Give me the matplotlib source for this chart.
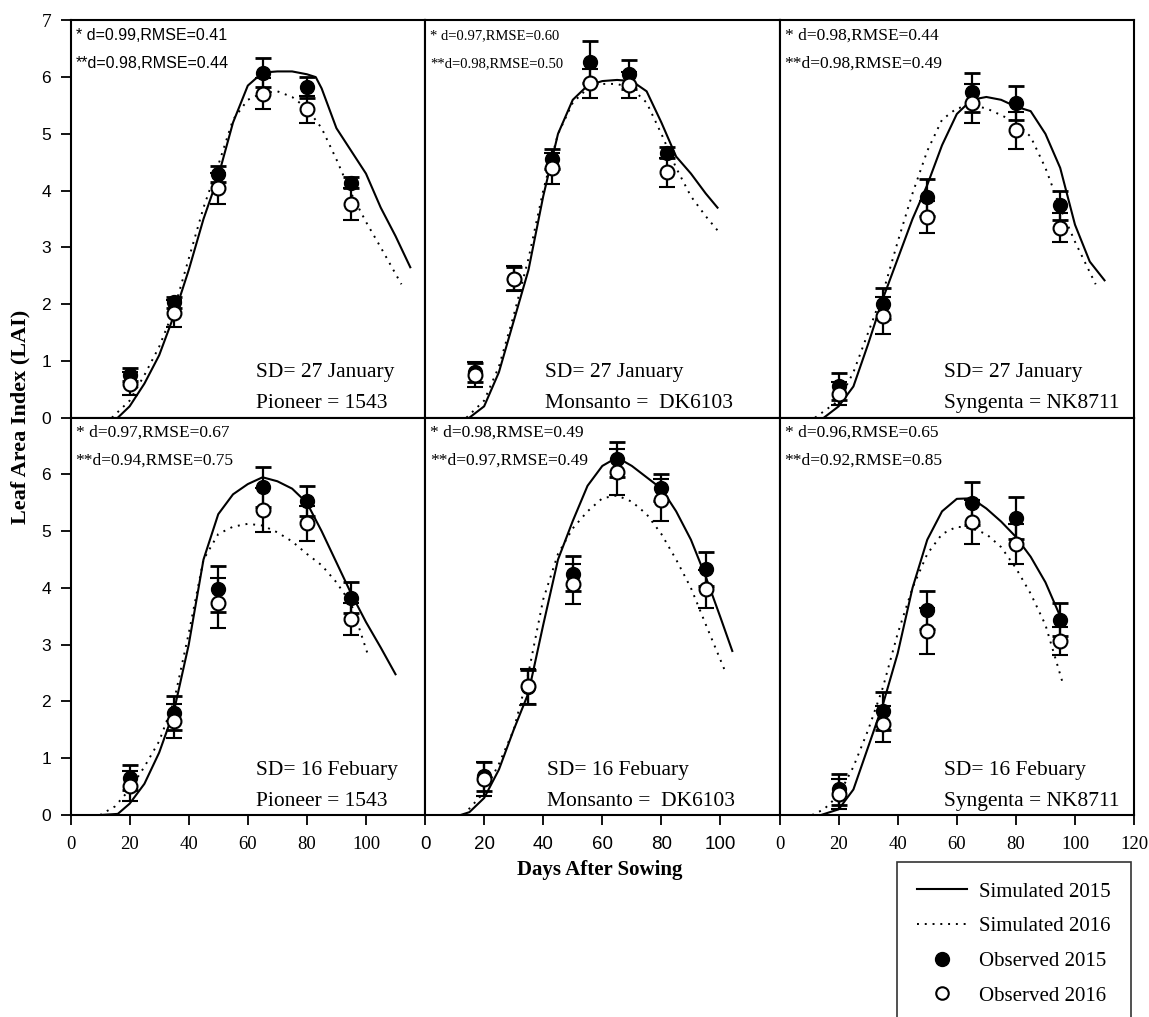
import matplotlib.pyplot as plt
from matplotlib.lines import Line2D

SERIF = 'Liberation Serif'
SANS = 'Liberation Sans'

# sampling days of the field observations
obs_days = [20, 35, 50, 65, 80, 95]
obs_days_dk_jan = [17, 30, 43, 56, 69, 82]

# ---- SD 27 January, Pioneer 1543 ----
sim15_x_p1 = [16, 20, 25, 30, 35, 40, 45, 50, 55, 60, 65, 70, 75, 80, 83, 85, 90, 95, 100, 105, 110, 115]
sim15_y_p1 = [0, 0.2, 0.6, 1.1, 1.8, 2.6, 3.5, 4.25, 5.2, 5.85, 6.08, 6.1, 6.1, 6.05, 6.0, 5.8, 5.1, 4.7, 4.3, 3.7, 3.2, 2.65]
sim16_x_p1 = [14, 20, 25, 30, 35, 40, 45, 50, 55, 60, 65, 70, 75, 80, 85, 90, 95, 100, 105, 112]
sim16_y_p1 = [0, 0.3, 0.75, 1.25, 1.9, 2.8, 3.7, 4.45, 5.25, 5.6, 5.72, 5.75, 5.65, 5.45, 5.1, 4.55, 3.95, 3.45, 3.0, 2.35]
obs15_p1 = [0.76, 2.03, 4.29, 6.08, 5.82, 4.14]
obs16_p1 = [0.6, 1.84, 4.04, 5.71, 5.43, 3.77]
err15_p1 = [0.12, 0.1, 0.14, 0.25, 0.19, 0.1]
err16_p1 = [0.2, 0.24, 0.27, 0.28, 0.23, 0.28]

# ---- SD 27 January, Monsanto DK6103 ----
sim15_x_p2 = [15, 20, 25, 30, 35, 40, 45, 50, 55, 60, 65, 70, 75, 80, 85, 90, 95, 99]
sim15_y_p2 = [0, 0.2, 0.8, 1.7, 2.6, 3.9, 5.0, 5.6, 5.85, 5.93, 5.95, 5.93, 5.75, 5.2, 4.6, 4.3, 3.95, 3.7]
sim16_x_p2 = [14, 20, 25, 30, 35, 40, 45, 50, 55, 60, 65, 70, 75, 80, 85, 90, 95, 99]
sim16_y_p2 = [0, 0.3, 0.9, 1.8, 2.8, 4.0, 5.0, 5.55, 5.8, 5.88, 5.88, 5.8, 5.55, 5.0, 4.4, 3.9, 3.55, 3.3]
obs15_p2 = [0.8, 2.45, 4.56, 6.26, 6.05, 4.67]
obs16_p2 = [0.76, 2.45, 4.39, 5.89, 5.86, 4.32]
err15_p2 = [0.17, 0.2, 0.18, 0.37, 0.26, 0.1]
err16_p2 = [0.22, 0.22, 0.28, 0.26, 0.23, 0.26]

# ---- SD 27 January, Syngenta NK8711 ----
sim15_x_p3 = [15, 20, 25, 30, 35, 40, 45, 50, 55, 60, 65, 70, 75, 80, 85, 90, 95, 100, 105, 110]
sim15_y_p3 = [0, 0.2, 0.55, 1.3, 2.1, 2.8, 3.5, 4.1, 4.8, 5.35, 5.6, 5.65, 5.6, 5.48, 5.4, 5.0, 4.4, 3.4, 2.75, 2.42]
sim16_x_p3 = [12, 20, 25, 30, 35, 40, 45, 50, 55, 60, 65, 70, 75, 80, 85, 90, 95, 100, 107]
sim16_y_p3 = [0, 0.3, 0.8, 1.5, 2.2, 3.1, 3.95, 4.7, 5.25, 5.45, 5.5, 5.45, 5.33, 5.2, 4.95, 4.4, 3.7, 3.1, 2.35]
obs15_p3 = [0.55, 2.01, 3.88, 5.73, 5.54, 3.74]
obs16_p3 = [0.42, 1.8, 3.53, 5.54, 5.06, 3.35]
err15_p3 = [0.23, 0.28, 0.32, 0.35, 0.3, 0.25]
err16_p3 = [0.2, 0.32, 0.28, 0.34, 0.32, 0.25]

# ---- SD 16 Febuary, Pioneer 1543 ----
sim15_x_p4 = [10, 16, 20, 25, 30, 35, 40, 45, 50, 55, 60, 65, 70, 75, 80, 85, 90, 95, 100, 105, 110]
sim15_y_p4 = [0, 0.02, 0.2, 0.55, 1.1, 1.83, 3.0, 4.5, 5.3, 5.65, 5.83, 5.95, 5.88, 5.75, 5.5, 5.0, 4.45, 3.9, 3.4, 2.95, 2.48]
sim16_x_p4 = [10, 15, 20, 25, 30, 35, 40, 45, 50, 55, 60, 65, 70, 75, 80, 85, 90, 95, 101]
sim16_y_p4 = [0, 0.15, 0.45, 0.85, 1.3, 2.0, 3.2, 4.5, 4.95, 5.08, 5.13, 5.1, 4.98, 4.82, 4.6, 4.4, 4.1, 3.72, 2.77]
obs15_p4 = [0.66, 1.8, 3.98, 5.78, 5.53, 3.83]
obs16_p4 = [0.51, 1.66, 3.74, 5.37, 5.14, 3.45]
err15_p4 = [0.22, 0.3, 0.41, 0.35, 0.27, 0.27]
err16_p4 = [0.27, 0.3, 0.44, 0.39, 0.31, 0.28]

# ---- SD 16 Febuary, Monsanto DK6103 ----
sim15_x_p5 = [12, 15, 20, 25, 30, 35, 40, 45, 50, 55, 60, 65, 70, 75, 80, 85, 90, 95, 100, 104]
sim15_y_p5 = [0, 0.05, 0.3, 0.8, 1.5, 2.15, 3.35, 4.5, 5.18, 5.8, 6.15, 6.3, 6.15, 5.95, 5.75, 5.35, 4.85, 4.2, 3.48, 2.89]
sim16_x_p5 = [13, 20, 25, 30, 35, 40, 45, 50, 55, 60, 65, 70, 75, 80, 85, 90, 95, 102]
sim16_y_p5 = [0, 0.4, 0.9, 1.5, 2.5, 3.8, 4.6, 5.05, 5.35, 5.58, 5.63, 5.52, 5.3, 4.95, 4.5, 4.0, 3.36, 2.48]
obs15_p5 = [0.68, 2.25, 4.25, 6.27, 5.77, 4.34]
obs16_p5 = [0.63, 2.27, 4.07, 6.04, 5.55, 3.98]
err15_p5 = [0.25, 0.3, 0.31, 0.31, 0.23, 0.3]
err16_p5 = [0.3, 0.31, 0.35, 0.4, 0.37, 0.33]

# ---- SD 16 Febuary, Syngenta NK8711 ----
sim15_x_p6 = [14, 20, 25, 30, 35, 40, 45, 50, 55, 60, 65, 70, 75, 80, 85, 90, 95]
sim15_y_p6 = [0, 0.1, 0.45, 1.2, 1.95, 2.85, 4.0, 4.85, 5.35, 5.57, 5.58, 5.4, 5.17, 4.9, 4.55, 4.1, 3.5]
sim16_x_p6 = [11, 15, 20, 25, 30, 35, 40, 45, 50, 55, 60, 65, 70, 75, 80, 85, 90, 96]
sim16_y_p6 = [0, 0.1, 0.35, 0.85, 1.5, 2.25, 3.2, 4.0, 4.6, 4.95, 5.08, 5.05, 4.95, 4.72, 4.35, 3.9, 3.35, 2.3]
obs15_p6 = [0.45, 1.83, 3.61, 5.49, 5.23, 3.44]
obs16_p6 = [0.37, 1.6, 3.24, 5.16, 4.77, 3.07]
err15_p6 = [0.27, 0.33, 0.34, 0.38, 0.37, 0.29]
err16_p6 = [0.27, 0.32, 0.41, 0.39, 0.35, 0.25]

# goodness-of-fit labels (* = 2015, ** = 2016)
stats_lines = [
    ("* d=0.99,RMSE=0.41", "**d=0.98,RMSE=0.44"),
    ("* d=0.97,RMSE=0.60", "**d=0.98,RMSE=0.50"),
    ("* d=0.98,RMSE=0.44", "**d=0.98,RMSE=0.49"),
    ("* d=0.97,RMSE=0.67", "**d=0.94,RMSE=0.75"),
    ("* d=0.98,RMSE=0.49", "**d=0.97,RMSE=0.49"),
    ("* d=0.96,RMSE=0.65", "**d=0.92,RMSE=0.85"),
]
sowing_dates = ["SD= 27 January"] * 3 + ["SD= 16 Febuary"] * 3
hybrids = ["Pioneer = 1543", "Monsanto =  DK6103", "Syngenta = NK8711"] * 2

panels = [
    (sim15_x_p1, sim15_y_p1, sim16_x_p1, sim16_y_p1, obs_days, obs15_p1, obs16_p1, err15_p1, err16_p1),
    (sim15_x_p2, sim15_y_p2, sim16_x_p2, sim16_y_p2, obs_days_dk_jan, obs15_p2, obs16_p2, err15_p2, err16_p2),
    (sim15_x_p3, sim15_y_p3, sim16_x_p3, sim16_y_p3, obs_days, obs15_p3, obs16_p3, err15_p3, err16_p3),
    (sim15_x_p4, sim15_y_p4, sim16_x_p4, sim16_y_p4, obs_days, obs15_p4, obs16_p4, err15_p4, err16_p4),
    (sim15_x_p5, sim15_y_p5, sim16_x_p5, sim16_y_p5, obs_days, obs15_p5, obs16_p5, err15_p5, err16_p5),
    (sim15_x_p6, sim15_y_p6, sim16_x_p6, sim16_y_p6, obs_days, obs15_p6, obs16_p6, err15_p6, err16_p6),
]

# fonts of the fit labels differ from panel to panel
stats_font = [(SANS, 11.5), (SERIF, 10.5), (SERIF, 12.5), (SERIF, 12.5), (SERIF, 12.5), (SERIF, 12.5)]
label_x = [0.524, 0.338, 0.465, 0.524, 0.345, 0.465]
xtick_font = [SERIF, SANS, SERIF]

fig = plt.figure(figsize=(11.49, 10.17), dpi=100)
gs = fig.add_gridspec(2, 3, left=0.0614, right=0.987, top=0.980, bottom=0.1986,
                      wspace=0, hspace=0)

dotted = (0, (1, 3))
for i, (sx15, sy15, sx16, sy16, days, o15, o16, e15, e16) in enumerate(panels):
    row, col = divmod(i, 3)
    ax = fig.add_subplot(gs[row, col])
    ax.plot(sx15, sy15, color='k', lw=1.5, zorder=2)
    ax.plot(sx16, sy16, color='k', ls=dotted, lw=1.4, zorder=2)
    ax.errorbar(days, o15, yerr=e15, fmt='o', color='k', mfc='k', ms=10,
                capsize=6, capthick=2, elinewidth=1.6, zorder=3)
    ax.errorbar(days, o16, yerr=e16, fmt='o', color='k', mfc='white', mec='k',
                mew=1.5, ms=10, capsize=6, capthick=2, elinewidth=1.6, zorder=4)
    ax.set_xlim(0, 120)
    ax.set_ylim(0, 7)
    for s in ax.spines.values():
        s.set_linewidth(1.5)
    ax.tick_params(direction='out', length=7, width=1.3)
    ax.tick_params(axis='x', pad=8)
    ax.tick_params(axis='y', pad=7)

    if row == 1:
        ticks = list(range(0, 121, 20)) if col == 2 else list(range(0, 101, 20))
        ax.set_xticks(ticks, labels=[str(t) for t in ticks],
                      fontfamily=xtick_font[col], fontsize=13.5)
    else:
        ax.set_xticks([])
    if col == 0:
        yt = list(range(0, 8)) if row == 0 else list(range(0, 7))
        ax.set_yticks(yt, labels=[str(t) for t in yt], fontfamily=SANS, fontsize=12.5)
        if row == 0:
            ax.get_yticklabels()[-1].set_fontfamily(SERIF)
            ax.get_yticklabels()[-1].set_fontsize(14)
    else:
        ax.set_yticks([])

    fam, size = stats_font[i]
    l1, l2 = stats_lines[i]
    ax.text(0.014, 0.962, l1, transform=ax.transAxes, family=fam, size=size, va='center')
    ax.text(0.014, 0.892, l2, transform=ax.transAxes, family=fam, size=size, va='center')
    ax.text(label_x[i], 0.113, sowing_dates[i], transform=ax.transAxes,
            family=SERIF, size=15.5, va='center')
    ax.text(label_x[i], 0.035, hybrids[i], transform=ax.transAxes,
            family=SERIF, size=15.5, va='center')

fig.text(0.018, 0.590, 'Leaf Area Index (LAI)', rotation=90, ha='center', va='center',
         family=SERIF, weight='bold', size=16)
fig.text(0.522, 0.1445, 'Days After Sowing', ha='center', va='center',
         family=SERIF, weight='bold', size=15)

handles = [
    Line2D([], [], color='k', lw=1.5),
    Line2D([], [], color='k', ls=dotted, lw=1.4),
    Line2D([], [], color='k', marker='o', ls='none', mfc='k', ms=10),
    Line2D([], [], color='k', marker='o', ls='none', mfc='white', mew=1.5, ms=9),
]
leg = fig.legend(handles, ['Simulated 2015', 'Simulated 2016', 'Observed 2015', 'Observed 2016'],
                 loc='upper right', bbox_to_anchor=(0.984, 0.152), borderaxespad=0,
                 frameon=True, fancybox=False, edgecolor='k',
                 prop={'family': SERIF, 'size': 15}, handlelength=2.4,
                 labelspacing=0.72, borderpad=0.95, handletextpad=0.6)
leg.get_frame().set_linewidth(1.2)

fig.savefig('out.png', dpi=100)
